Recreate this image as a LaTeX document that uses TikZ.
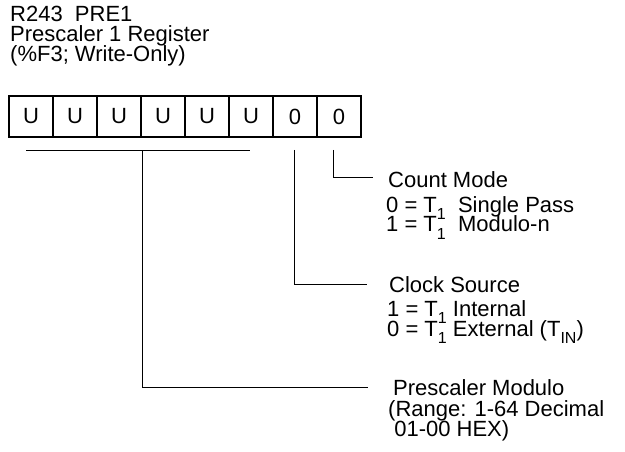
\documentclass[tikz,border=0pt]{standalone}
\usepackage{fontspec}
\setmainfont{Liberation Sans}
\newcommand\lowsub[1]{\raisebox{-0.36em}{\fontsize{16}{16}\selectfont #1}}
\begin{document}
\begin{tikzpicture}[x=1pt,y=-1pt,
  txt/.style={anchor=base west,inner sep=0pt,font=\fontsize{22}{24}\selectfont},
  cell/.style={draw,line width=1.5pt,minimum width=44pt,minimum height=41pt,inner sep=0pt,font=\fontsize{22}{24}\selectfont},
  conn/.style={line width=1pt}]
\useasboundingbox (0,0) rectangle (625,452);
% title
\node[txt] (t1) at (10,22) {R243~~PRE1};
\node[txt] (t2) at (10,42) {Prescaler 1 Register};
\node[txt] (t3) at (10,62) {(\%F3; Write-Only)};
% register cells
\foreach \i/\v in {1/U,2/U,3/U,4/U,5/U,6/U,7/0,8/0}{
  \node[cell] (c\i) at ({9+44*(\i-1)+22},116.5) {\v};
}
% field texts
\node[txt] (cm) at (388,188) {Count Mode};
\node[txt] (cm1) at (386,212) {0 = T\lowsub{1}\ \ Single Pass};
\node[txt] (cm2) at (386,232) {1 = T\lowsub{1}\ \ Modulo-n};
\node[txt] (cs) at (389,292) {Clock Source};
\node[txt] (cs1) at (387,316) {1 = T\lowsub{1} Internal};
\node[txt] (cs2) at (387,336) {0 = T\lowsub{1} External (T\lowsub{IN})};
\node[txt] (pm) at (393,395) {Prescaler Modulo};
\node[txt] (pm1) at (388,416) {(Range: 1-64 Decimal};
\node[txt] (pm2) at (388,436) {\ 01-00 HEX)};
% connector coordinates
\coordinate (bL) at (26,151);
\coordinate (bR) at (250,151);
\coordinate (bM) at (142,151);
\coordinate (csTop) at (294,150);
\coordinate (cmTop) at (333,150);
\coordinate (cmEnd) at (373,178);
\coordinate (csEnd) at (367,284);
\coordinate (pmEnd) at (368,387);
% connectors
\draw[conn] (bL) -- (bR);
\draw[conn] (bM) |- (pmEnd);
\draw[conn] (csTop) |- (csEnd);
\draw[conn] (cmTop) |- (cmEnd);
\end{tikzpicture}
\end{document}
